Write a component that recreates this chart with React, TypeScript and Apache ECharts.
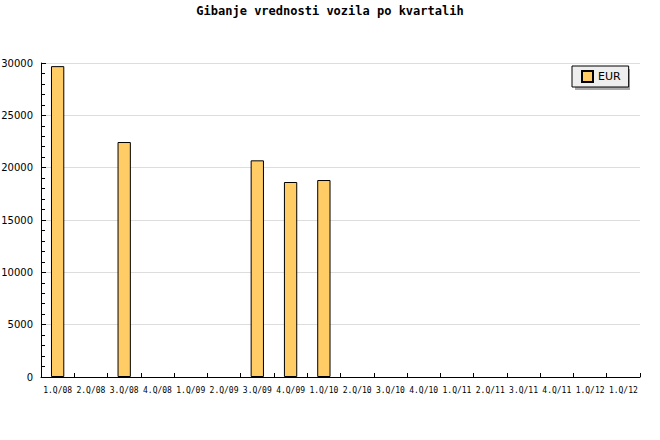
import React, { useEffect, useRef } from "react";
import * as echarts from "echarts";

const categories = [
  "1.Q/08", "2.Q/08", "3.Q/08", "4.Q/08", "1.Q/09", "2.Q/09", "3.Q/09", "4.Q/09", "1.Q/10",
  "2.Q/10", "3.Q/10", "4.Q/10", "1.Q/11", "2.Q/11", "3.Q/11", "4.Q/11", "1.Q/12", "1.Q/12",
];
const eurValues: (number | null)[] = [
  29700, null, 22450, null, null, null, 20700, 18630, 18820,
  null, null, null, null, null, null, null, null, null,
];
const seriesName = "EUR";
const titleText = "Gibanje vrednosti vozila po kvartalih";

export default function App() {
  const ref = useRef<HTMLDivElement>(null);
  useEffect(() => {
    if (!ref.current) return;
    document.body.style.margin = "0";
    const chart = echarts.init(ref.current, undefined, { renderer: "svg" });
    chart.setOption({
      animation: false,
      backgroundColor: "#ffffff",
      title: {
        text: titleText,
        left: "center",
        top: 0,
        textStyle: { fontFamily: "DejaVu Sans Mono", fontSize: 12, fontWeight: "bold", color: "#000" },
      },
      legend: {
        data: [seriesName],
        left: 572,
        top: 66,
        orient: "vertical",
        backgroundColor: "#eeeeee",
        borderColor: "#000",
        borderWidth: 1,
        borderRadius: 0,
        padding: [4, 8, 4, 9],
        itemWidth: 11,
        itemHeight: 11,
        itemGap: 5,
        icon: "rect",
        textStyle: { fontFamily: "DejaVu Sans", fontSize: 11, color: "#000" },
        z: 5,
      },
      graphic: [
        {
          type: "rect",
          left: 575,
          top: 69,
          shape: { width: 55, height: 21 },
          style: { fill: "#aaaaaa" },
          z: 1,
        },
      ],
      grid: { left: 41, right: 20, top: 63, bottom: 63, outerBoundsMode: "none", containLabel: false },
      xAxis: {
        type: "category",
        data: categories,
        boundaryGap: true,
        axisLine: { lineStyle: { color: "#000", width: 1 } },
        axisTick: { show: true, inside: true, length: 4, lineStyle: { color: "#000" } },
        axisLabel: { interval: 0, fontFamily: "DejaVu Sans Mono", fontSize: 8, color: "#000", margin: 9 },
        splitLine: { show: false },
      },
      yAxis: {
        type: "value",
        min: 0,
        max: 30000,
        interval: 5000,
        axisLine: { show: true, lineStyle: { color: "#000", width: 1 } },
        axisTick: { show: true, inside: true, length: 5, lineStyle: { color: "#000" } },
        minorTick: { show: true, splitNumber: 5, length: 4, lineStyle: { color: "#000" } },
        axisLabel: {
          fontFamily: "DejaVu Sans",
          fontSize: 10,
          color: "#000",
          margin: 8,
          formatter: (v: number) => String(v),
        },
        splitLine: { show: true, lineStyle: { color: "#dddddd", width: 1 } },
      },
      series: [
        {
          name: seriesName,
          type: "bar",
          data: eurValues,
          barWidth: "40%",
          itemStyle: { color: "#ffcc66", borderColor: "#000", borderWidth: 1 },
        },
      ],
    });
    return () => chart.dispose();
  }, []);
  return <div ref={ref} style={{ width: 660, height: 440 }} />;
}
